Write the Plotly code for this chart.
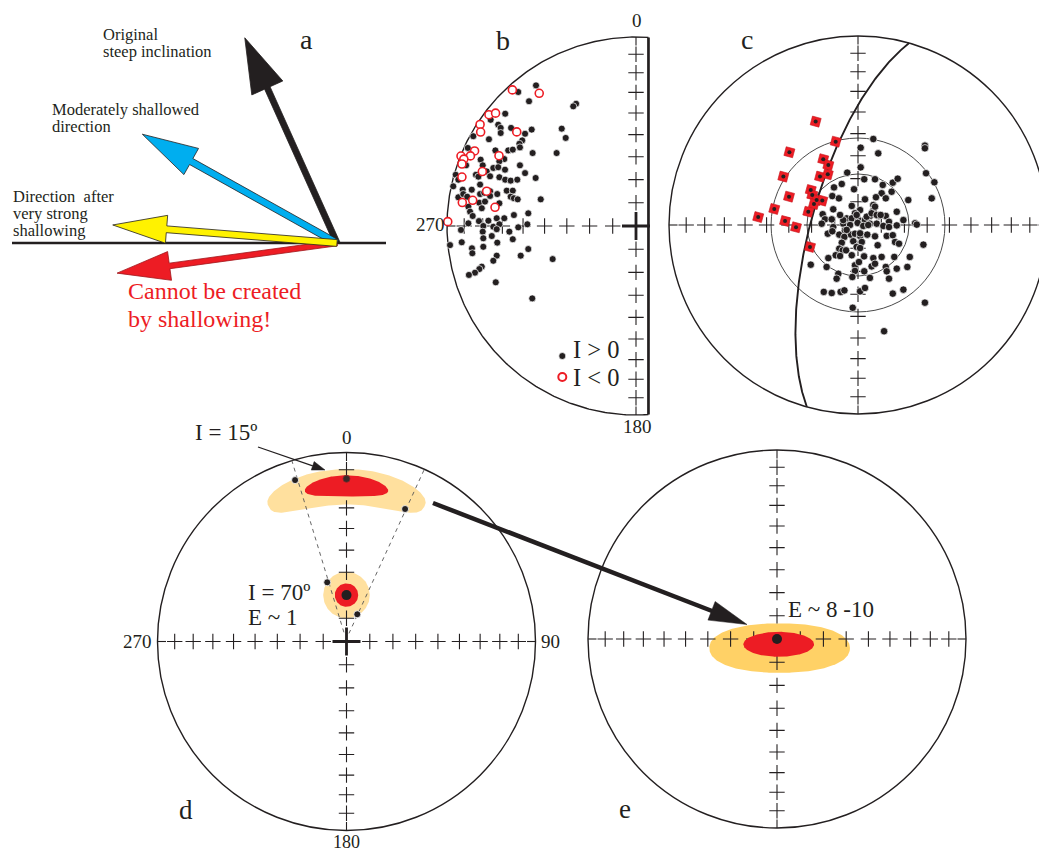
import numpy as np
import plotly.graph_objects as go

W, H = 1039, 852
FONT = "Liberation Serif"
INK = "#231F20"
RED = "#ED1C24"

# ------------------------------------------------------------------ data
# (a) schematic vectors: inclination (degrees above horizontal, negative = upward/impossible)
a_incl = [65.8, 29.2, 4.6, -7.8]
a_fill = [INK, "#00AEEF", "#FFF200", RED]
a_edge = [INK, INK, INK, "#A0161C"]

# (b) directions in equal-area projection (east, north), primitive radius = 1
b_pos_e = [-0.529, -0.623, -0.566, -0.317, -0.332, -0.692, -0.769, -0.729, -0.716, -0.661,
           -0.552, -0.587, -0.393, -0.372, -0.861, -0.778, -0.716, -0.602, -0.617, -0.614,
           -0.890, -0.744, -0.676, -0.652, -0.547, -0.420, -0.697, -0.822, -0.899, -0.811,
           -0.723, -0.614, -0.755, -0.729, -0.693, -0.587, -0.790, -0.847, -0.834, -0.772,
           -0.723, -0.692, -0.663, -0.628, -0.531, -0.954, -0.940, -0.967, -0.869, -0.825,
           -0.772, -0.684, -0.652, -0.917, -0.940, -0.914, -0.893, -0.825, -0.803, -0.772,
           -0.734, -0.663, -0.646, -0.626, -0.504, -0.887, -0.829, -0.799, -0.816, -0.723,
           -0.878, -0.864, -0.887, -0.831, -0.781, -0.737, -0.697, -0.646, -0.570, -0.808,
           -0.755, -0.723, -0.623, -0.575, -0.926, -0.811, -0.737, -0.670, -0.763, -0.808,
           -0.652, -0.922, -0.734, -0.984, -0.808, -0.868, -0.866, -0.570, -0.610, -0.737,
           -0.755, -0.441, -0.816, -0.829, -0.852, -0.884, -0.742, -0.549]
b_pos_n = [0.744, 0.709, 0.660, 0.647, 0.633, 0.594, 0.562, 0.536, 0.519, 0.519,
           0.510, 0.488, 0.515, 0.466, 0.475, 0.459, 0.492, 0.453, 0.435, 0.416,
           0.413, 0.400, 0.400, 0.404, 0.386, 0.386, 0.354, 0.351, 0.321, 0.321,
           0.342, 0.321, 0.307, 0.311, 0.298, 0.280, 0.289, 0.271, 0.261, 0.263,
           0.258, 0.245, 0.240, 0.245, 0.254, 0.271, 0.245, 0.210, 0.192, 0.219,
           0.184, 0.187, 0.187, 0.192, 0.152, 0.169, 0.155, 0.169, 0.176, 0.159,
           0.169, 0.155, 0.147, 0.141, 0.141, 0.102, 0.123, 0.129, 0.094, 0.120,
           0.076, 0.053, 0.014, 0.026, 0.028, 0.041, 0.041, 0.058, 0.067, 0.000,
           -0.004, 0.009, -0.007, 0.009, -0.021, -0.030, -0.017, -0.030, -0.053, -0.065,
           -0.070, -0.086, -0.088, -0.101, -0.110, -0.118, -0.144, -0.122, -0.157, -0.157,
           -0.184, -0.175, -0.215, -0.228, -0.247, -0.259, -0.298, -0.383]
b_neg_e = [-0.654, -0.512, -0.778, -0.743, -0.825, -0.822, -0.631, -0.854, -0.876, -0.926,
           -0.911, -0.921, -0.725, -0.813, -0.921, -0.790, -0.864, -0.919, -0.746, -0.996]
b_neg_n = [0.720, 0.702, 0.589, 0.597, 0.537, 0.497, 0.498, 0.397, 0.371, 0.370,
           0.354, 0.328, 0.372, 0.288, 0.259, 0.184, 0.136, 0.124, 0.099, 0.023]

# (c) accepted (black) and rejected (red) directions, equal-area (east, north)
c_in_e = [0.081, 0.014, 0.107, 0.354, 0.354, 0.014, 0.360, 0.404, -0.057, -0.086,
          -0.127, -0.021, 0.033, 0.090, 0.131, 0.184, 0.210, 0.178, 0.125, 0.095,
          0.147, -0.136, -0.101, 0.037, -0.033, 0.081, 0.266, 0.390, 0.205, -0.131,
          0.011, -0.016, 0.081, 0.063, 0.107, 0.147, -0.187, -0.175, -0.139, -0.060,
          -0.033, 0.002, 0.037, 0.240, 0.302, 0.164, -0.192, -0.131, -0.078, -0.002,
          0.028, 0.063, 0.099, 0.134, 0.164, 0.205, 0.311, -0.160, -0.136, -0.099,
          -0.069, -0.072, -0.037, -0.016, 0.011, 0.049, 0.090, 0.152, 0.184, 0.196,
          0.217, 0.346, -0.086, -0.025, 0.020, 0.104, -0.007, 0.011, -0.099, -0.081,
          -0.063, -0.118, -0.095, -0.033, -0.157, 0.032, 0.081, 0.125, 0.192, 0.274,
          -0.250, -0.166, -0.016, 0.005, 0.072, 0.090, 0.147, 0.205, 0.261, -0.104,
          -0.113, -0.016, 0.033, -0.030, 0.063, 0.152, 0.164, -0.181, -0.139, -0.092,
          -0.072, 0.011, 0.037, 0.184, 0.240, 0.354, -0.028, 0.138, -0.007, 0.046,
          0.072, 0.099, 0.054, -0.042, -0.060, 0.011, -0.078, -0.095, 0.090, 0.120]
c_in_n = [0.455, 0.409, 0.379, 0.420, 0.406, 0.305, 0.274, 0.226, 0.277, 0.217,
          0.199, 0.189, 0.242, 0.242, 0.212, 0.224, 0.245, 0.176, 0.168, 0.147,
          0.141, 0.153, 0.141, 0.136, 0.101, 0.106, 0.132, 0.141, 0.070, 0.083,
          0.079, 0.062, 0.076, 0.048, 0.048, 0.048, 0.057, 0.030, 0.030, 0.035,
          0.035, 0.026, 0.026, 0.026, 0.009, 0.017, 0.007, -0.011, 0.007, 0.011,
          -0.005, 0.007, 0.007, -0.005, -0.011, -0.002, 0.002, -0.046, -0.033, -0.051,
          -0.028, -0.063, -0.051, -0.046, -0.058, -0.051, -0.060, -0.058, -0.054, -0.090,
          -0.099, -0.104, -0.094, -0.086, -0.090, -0.107, -0.116, -0.122, -0.125, -0.134,
          -0.134, -0.160, -0.164, -0.160, -0.175, -0.166, -0.175, -0.169, -0.169, -0.169,
          -0.210, -0.222, -0.213, -0.196, -0.219, -0.205, -0.222, -0.231, -0.222, -0.258,
          -0.284, -0.243, -0.245, -0.275, -0.280, -0.245, -0.284, -0.354, -0.360, -0.354,
          -0.346, -0.351, -0.333, -0.363, -0.342, -0.411, -0.438, -0.562, 0.053, 0.044,
          0.062, 0.053, 0.000, 0.000, -0.026, -0.044, 0.026, 0.053, 0.097, 0.053]
c_out_e = [-0.224, -0.118, -0.363, -0.184, -0.157, -0.395, -0.201, -0.160, -0.250, -0.242,
           -0.365, -0.219, -0.189, -0.233, -0.443, -0.263, -0.528, -0.386, -0.328, -0.254]
c_out_n = [0.547, 0.441, 0.385, 0.348, 0.317, 0.256, 0.256, 0.268, 0.185, 0.159,
           0.150, 0.132, 0.129, 0.111, 0.085, 0.070, 0.042, 0.021, -0.012, -0.116]
c_cutoff_radii = [0.27, 0.46]
c_plane_dipdir = 285.7
c_plane_dip = 70.0

# (d) shallowed (I = 15) and original (I = 70) populations
d_shallow_mean = (0.0, 15.0)          # (dec, inc)
d_shallow_e = [-0.272, 0.310]
d_shallow_n = [0.854, 0.701]
d_steep_mean = (0.0, 70.0)
d_steep_e = [-0.102, 0.057]
d_steep_n = [0.313, 0.144]
d_path1_e = [-0.290, -0.012]
d_path1_n = [0.960, 0.043]
d_path2_e = [0.410, 0.013]
d_path2_n = [0.907, 0.043]
# confidence regions: (dec0, inc0, dec half-width, inc half-width)
d_shallow_outer = (0.0, 19.0, 30.0, 9.3)
d_shallow_inner = (0.0, 18.7, 15.5, 5.6)
d_steep_outer_r = 0.123
d_steep_inner_r = 0.062

# (e) corrected distribution (projected centre and semi-axes)
e_mean = (0.0, 90.0)
e_outer = (0.014, -0.048, 0.372, 0.131)
e_inner = (0.009, -0.028, 0.187, 0.066)

tick_incl = [80, 70, 60, 50, 40, 30, 20, 10]

# ------------------------------------------------------------------ helpers
def ea_r(inc):
    return np.sqrt(2) * np.sin(np.radians(90 - np.asarray(inc, float)) / 2)


def proj(dec, inc):
    r = ea_r(inc)
    d = np.radians(np.asarray(dec, float))
    return r * np.sin(d), r * np.cos(d)


def superellipse(cx, cy, ax, ay, p, n=260):
    t = np.linspace(0, 2 * np.pi, n)
    c, s = np.cos(t), np.sin(t)
    return (cx + ax * np.sign(c) * np.abs(c) ** (2 / p),
            cy + ay * np.sign(s) * np.abs(s) ** (2 / p))


def plane_curve(dipdir, dip, n=241):
    strike = np.radians(dipdir - 90)
    dd, dp = np.radians(dipdir), np.radians(dip)
    s = np.array([np.sin(strike), np.cos(strike), 0.0])
    d = np.array([np.cos(dp) * np.sin(dd), np.cos(dp) * np.cos(dd), np.sin(dp)])
    th = np.linspace(0, np.pi, n)
    v = np.cos(th)[:, None] * s + np.sin(th)[:, None] * d
    pl = np.arcsin(np.clip(v[:, 2], -1, 1))
    tr = np.arctan2(v[:, 0], v[:, 1])
    r = np.sqrt(2) * np.sin((np.pi / 2 - pl) / 2)
    return r * np.sin(tr), r * np.cos(tr)


fig = go.Figure()
shapes, annos = [], []
R = 189.0
# panel frames: axis id -> (centre x px, centre y px, px per unit)
frames = {1: (337, 243, 1.0), 2: (636, 226, R), 3: (858, 225, R),
          4: (346.5, 641.5, R), 5: (777, 639, R), 6: (0, 0, 1.0)}


def ax(i):
    return ("x" if i == 1 else f"x{i}"), ("y" if i == 1 else f"y{i}")


def add(i, **kw):
    xa, ya = ax(i)
    kw.setdefault("showlegend", False)
    kw.setdefault("hoverinfo", "skip")
    fig.add_trace(go.Scatter(xaxis=xa, yaxis=ya, **kw))


def txt(text, x, y, size, color=INK, xanchor="center", yanchor="middle"):
    annos.append(dict(text=text, x=x / W, y=1 - y / H, xref="paper", yref="paper",
                      showarrow=False, xanchor=xanchor, yanchor=yanchor, borderpad=0,
                      font=dict(family=FONT, size=size, color=color)))


def circle_shape(i, r, width=1.4, color=INK, cx=0.0, cy=0.0):
    xa, ya = ax(i)
    shapes.append(dict(type="circle", xref=xa, yref=ya, x0=cx - r, x1=cx + r,
                       y0=cy - r, y1=cy + r, line=dict(color=color, width=width),
                       layer="below"))


def crosses(i, dirs=("N", "S", "E", "W"), big_centre=False):
    r = ea_r(tick_incl)
    xs, ys = [], []
    for dname in dirs:
        if dname == "N":
            xs += [0] * len(r); ys += list(r)
        if dname == "S":
            xs += [0] * len(r); ys += list(-r)
        if dname == "E":
            xs += list(r); ys += [0] * len(r)
        if dname == "W":
            xs += list(-r); ys += [0] * len(r)
    add(i, x=xs, y=ys, mode="markers",
        marker=dict(symbol="cross-thin", size=11, line=dict(color=INK, width=1.1)))
    # short ticks where the axes meet the primitive
    tk = 0.045
    for dname in dirs:
        sx, sy = {"N": (0, 1), "S": (0, -1), "E": (1, 0), "W": (-1, 0)}[dname]
        add(i, x=[sx, sx * (1 - tk)], y=[sy, sy * (1 - tk)], mode="lines",
            line=dict(color=INK, width=1.1))
    if big_centre:
        add(i, x=[0], y=[0], mode="markers",
            marker=dict(symbol="cross-thin", size=20, line=dict(color=INK, width=2.8)))


# ------------------------------------------------------------------ panel a
add(1, x=[-325, 49], y=[0, 0], mode="lines", line=dict(color=INK, width=2.6))
a_len = [225, 223, 225, 222]
a_shaft = [3.0, 3.4, 3.4, 2.8]
a_headw = [17, 15, 14, 14.5]
a_headl = [55, 56, 54, 53]
for k in [0, 1, 3, 2]:
    t = np.radians(a_incl[k])
    u = np.array([-np.cos(t), np.sin(t)])
    nrm = np.array([-u[1], u[0]])
    L, sw, hw, hl = a_len[k], a_shaft[k], a_headw[k], a_headl[k]
    base = u * (L - hl)
    tip = u * L
    pts = [nrm * sw, base + nrm * sw, base + nrm * hw, tip, base - nrm * hw,
           base - nrm * sw, -nrm * sw, nrm * sw]
    add(1, x=[p[0] for p in pts], y=[p[1] for p in pts], mode="lines", fill="toself",
        fillcolor=a_fill[k], line=dict(color=a_edge[k], width=0.8))

txt("a", 306, 39, 28)
txt("Original", 102, 34, 16.5, xanchor="left")
txt("steep inclination", 102, 51, 16.5, xanchor="left")
txt("Moderately shallowed", 51, 110, 16.5, xanchor="left")
txt("direction", 51, 127, 16.5, xanchor="left")
txt("Direction\u00a0 after", 12, 197, 16.5, xanchor="left")
txt("very strong", 12, 214, 16.5, xanchor="left")
txt("shallowing", 12, 231, 16.5, xanchor="left")
txt("Cannot be created", 127, 291, 24, color=RED, xanchor="left")
txt("by shallowing!", 127, 319, 24, color=RED, xanchor="left")

# ------------------------------------------------------------------ panel b
b_edge = 0.066
th0 = np.arcsin(b_edge)
th = np.linspace(-th0, np.pi + th0, 300)          # from just east of north, via west, to south
add(2, x=-np.sin(th), y=np.cos(th), mode="lines", line=dict(color=INK, width=1.4))
add(2, x=[b_edge, b_edge], y=[np.cos(th0), -np.cos(th0)], mode="lines",
    line=dict(color=INK, width=2.7))
crosses(2, dirs=("N", "S", "W"), big_centre=True)
add(2, x=b_pos_e, y=b_pos_n, mode="markers",
    marker=dict(size=7, color=INK, line=dict(color="white", width=0.7)))
add(2, x=b_neg_e, y=b_neg_n, mode="markers",
    marker=dict(size=8, color="white", line=dict(color=RED, width=1.6)))
# legend keys
add(6, x=[562.3], y=[356], mode="markers",
    marker=dict(size=7, color=INK, line=dict(color="white", width=0.7)))
add(6, x=[562.3], y=[377], mode="markers",
    marker=dict(size=8, color="white", line=dict(color=RED, width=2.0)))
txt("b", 503, 40, 28)
txt("0", 637, 21, 19)
txt("270", 446, 225, 19, xanchor="right")
txt("180", 637, 427, 19)
txt("I &gt; 0", 572, 349, 24.5, xanchor="left")
txt("I &lt; 0", 572, 377, 24.5, xanchor="left")

# ------------------------------------------------------------------ panel c
circle_shape(3, 1.0)
for rr in c_cutoff_radii:
    circle_shape(3, rr, width=1.0, color="#4a4a4a")
crosses(3)
gx, gy = plane_curve(c_plane_dipdir, c_plane_dip)
add(3, x=gx, y=gy, mode="lines", line=dict(color=INK, width=1.9))
add(3, x=c_in_e, y=c_in_n, mode="markers",
    marker=dict(size=7.5, color=INK, line=dict(color="white", width=0.7)))
add(3, x=c_out_e, y=c_out_n, mode="markers",
    marker=dict(size=9, symbol="square", angle=15, color=RED,
                line=dict(color="#C4161C", width=0.6)))
add(3, x=c_out_e, y=c_out_n, mode="markers",
    marker=dict(size=4, color=INK, line=dict(width=0)))
txt("c", 747, 39, 28)

# ------------------------------------------------------------------ panel d
YEL_D = "#FFE09E"
YEL_E = "#FFD166"
circle_shape(4, 1.0)
dc, ic, hw_, hh_ = d_shallow_outer
sd, si = superellipse(dc, ic, hw_, hh_, 2.7)
ox, oy = proj(sd, si)
add(4, x=ox, y=oy, mode="lines", fill="toself", fillcolor=YEL_D, line=dict(width=0))
mx70, my70 = proj(*d_steep_mean)
t = np.linspace(0, 2 * np.pi, 120)
add(4, x=mx70 + d_steep_outer_r * np.cos(t), y=my70 + d_steep_outer_r * np.sin(t),
    mode="lines", fill="toself", fillcolor=YEL_D, line=dict(width=0))
for pe, pn in [(d_path1_e, d_path1_n), (d_path2_e, d_path2_n)]:
    add(4, x=pe, y=pn, mode="lines", line=dict(color="#555555", width=0.9, dash="4px,4px"))
crosses(4, big_centre=True)
dc, ic, hw_, hh_ = d_shallow_inner
sd, si = superellipse(dc, ic, hw_, hh_, 2.0)
ix, iy = proj(sd, si)
add(4, x=ix, y=iy, mode="lines", fill="toself", fillcolor=RED, line=dict(width=0))
add(4, x=mx70 + d_steep_inner_r * np.cos(t), y=my70 + d_steep_inner_r * np.sin(t),
    mode="lines", fill="toself", fillcolor=RED, line=dict(width=0))
m15x, m15y = proj(*d_shallow_mean)
add(4, x=[m15x], y=[m15y], mode="markers",
    marker=dict(size=7, color="#3a2a2a", line=dict(color="#8a2a2a", width=0.8)))
add(4, x=d_shallow_e + d_steep_e, y=d_shallow_n + d_steep_n, mode="markers",
    marker=dict(size=7, color=INK, line=dict(color="white", width=0.8)))
add(4, x=[mx70], y=[my70], mode="markers", marker=dict(size=10, color=INK))
txt("0", 346.5, 437, 19)
txt("270", 153, 641, 19, xanchor="right")
txt("90", 540, 641, 19, xanchor="left")
txt("180", 346.5, 842, 18)
txt("I = 15º", 226, 432, 23)
txt("I = 70º", 279, 592, 23)
txt("E ~ 1", 273, 617, 23)
txt("d", 185.5, 810, 27)

# small pointer arrow to the I = 15 distribution (pixel overlay)
p0, p1 = np.array([258.0, 447.0]), np.array([325.0, 470.0])
uvec = (p1 - p0) / np.linalg.norm(p1 - p0)
nvec = np.array([-uvec[1], uvec[0]])
hb = p1 - uvec * 13
add(6, x=[p0[0], hb[0]], y=[p0[1], hb[1]], mode="lines", line=dict(color=INK, width=1.3))
tri = [hb + nvec * 4.5, p1, hb - nvec * 4.5, hb + nvec * 4.5]
add(6, x=[q[0] for q in tri], y=[q[1] for q in tri], mode="lines", fill="toself",
    fillcolor=INK, line=dict(color=INK, width=0.5))

# ------------------------------------------------------------------ panel e
circle_shape(5, 1.0)
ex, ey, eax, eay = e_outer
sx, sy = superellipse(ex, ey, eax, eay, 2.2)
add(5, x=sx, y=sy, mode="lines", fill="toself", fillcolor=YEL_E, line=dict(width=0))
crosses(5)
ex, ey, eax, eay = e_inner
sx, sy = superellipse(ex, ey, eax, eay, 2.0)
add(5, x=sx, y=sy, mode="lines", fill="toself", fillcolor=RED, line=dict(width=0))
emx, emy = proj(*e_mean)
add(5, x=[emx], y=[emy], mode="markers", marker=dict(size=10, color=INK))
txt("E ~ 8 -10", 787, 609, 23, xanchor="left")
txt("e", 625, 809, 27)

# big arrow from d to e (pixel overlay)
q0, q1 = np.array([433.0, 503.0]), np.array([747.0, 624.5])
uvec = (q1 - q0) / np.linalg.norm(q1 - q0)
nvec = np.array([-uvec[1], uvec[0]])
hb = q1 - uvec * 38
add(6, x=[q0[0], hb[0] + uvec[0] * 4], y=[q0[1], hb[1] + uvec[1] * 4], mode="lines",
    line=dict(color=INK, width=4.5))
tri = [hb + nvec * 10, q1, hb - nvec * 10, hb + nvec * 10]
add(6, x=[q[0] for q in tri], y=[q[1] for q in tri], mode="lines", fill="toself",
    fillcolor=INK, line=dict(color=INK, width=0.5))

# ------------------------------------------------------------------ axes
lay = dict(width=W, height=H, margin=dict(l=0, r=0, t=0, b=0), autosize=False,
           paper_bgcolor="white", plot_bgcolor="rgba(0,0,0,0)",
           shapes=shapes, annotations=annos, showlegend=False)
for i, (cx, cy, s) in frames.items():
    xa, ya = ax(i)
    kx = "xaxis" if i == 1 else f"xaxis{i}"
    ky = "yaxis" if i == 1 else f"yaxis{i}"
    if i == 6:
        xr, yr = [0, W], [H, 0]
    else:
        xr = [-cx / s, (W - cx) / s]
        yr = [(cy - H) / s, cy / s]
    common = dict(visible=False, showgrid=False, zeroline=False, fixedrange=True)
    lay[kx] = dict(range=xr, domain=[0, 1], anchor=ya, **common)
    lay[ky] = dict(range=yr, domain=[0, 1], anchor=xa, **common)
fig.update_layout(**lay)
fig.write_html("out.html", config={"displayModeBar": False},
               post_script="document.body.style.margin='0px';document.body.style.overflow='hidden';")
